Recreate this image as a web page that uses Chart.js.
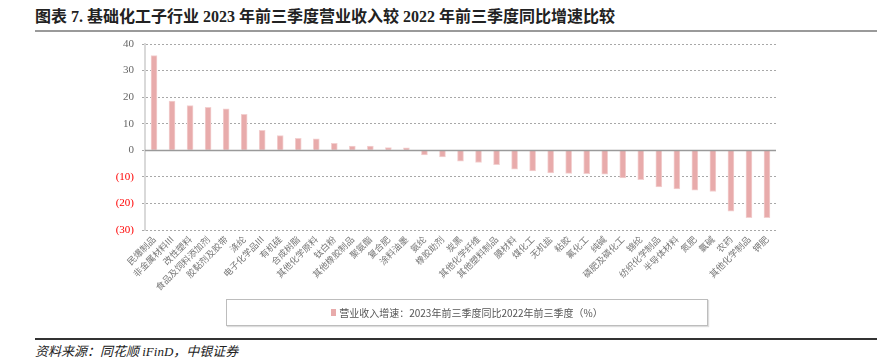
<!DOCTYPE html>
<html>
<head>
<meta charset="utf-8">
<script src="https://cdn.jsdelivr.net/npm/chart.js@4/dist/chart.umd.min.js"></script>
<style>
  body { margin: 0; width: 877px; height: 359px; background: #fff; position: relative; overflow: hidden; }
  #title { position: absolute; left: 35px; top: 3px; font: bold 16px "Liberation Serif", "Noto Sans CJK SC", serif; color: #222; white-space: nowrap; }
  #topline { position: absolute; left: 35px; right: 0; top: 30px; height: 2px; background: #9a9a9a; }
  #myChart { position: absolute; left: 0; top: 0; }
  #legend { position: absolute; left: 226px; top: 299px; width: 480px; height: 25px; border: 1px solid #bdbdbd; box-shadow: 1px 1px 1px #ddd;
            font: 10px "Noto Sans CJK SC", serif; color: #555; display: flex; align-items: center; justify-content: center; }
  #legend i { display: inline-block; width: 5px; height: 7px; margin-right: 3px; }
  #botline { position: absolute; left: 35px; right: 0; top: 338px; height: 2px; background: #333; }
  #source { position: absolute; left: 35px; top: 341px; font: italic 13px "Liberation Serif", "Noto Sans CJK SC", serif; color: #222; }
</style>
</head>
<body>
<div id="title">图表 7. 基础化工子行业 2023 年前三季度营业收入较 2022 年前三季度同比增速比较</div>
<div id="topline"></div>
<canvas id="myChart" width="877" height="300"></canvas>
<div id="legend"></div>
<div id="botline"></div>
<div id="source">资料来源：同花顺 iFinD，中银证券</div>
<script>
var categories = ['民爆制品', '非金属材料III', '改性塑料', '食品及饲料添加剂', '胶黏剂及胶带', '涤纶', '电子化学品III',
  '有机硅', '合成树脂', '其他化学原料', '钛白粉', '其他橡胶制品', '聚氨酯', '复合肥', '涂料油墨', '氨纶', '橡胶助剂',
  '炭黑', '其他化学纤维', '其他塑料制品', '膜材料', '煤化工', '无机盐', '粘胶', '氟化工', '纯碱', '磷肥及磷化工',
  '锦纶', '纺织化学制品', '半导体材料', '氮肥', '氯碱', '农药', '其他化学制品', '钾肥'];
var growth = [35.6, 18.5, 16.8, 16.2, 15.6, 13.5, 7.5, 5.5, 4.5, 4.3, 2.6, 1.6, 1.6, 1.0, 0.9, -1.7, -2.5,
  -4.1, -4.6, -5.4, -7.1, -7.8, -8.5, -8.7, -8.8, -9.0, -10.4, -11.1, -13.8, -14.5, -15.0, -15.5, -22.9, -25.4, -25.4];
var seriesName = '营业收入增速：2023年前三季度同比2022年前三季度（%）';
var yTicks = [-30, -20, -10, 0, 10, 20, 30, 40];

var barColor = '#e8abab';
document.getElementById('legend').innerHTML = '<i style="background:' + barColor + '"></i>' + seriesName;

// solid zero line on top of the dashed grid
var zeroLine = {
  id: 'zeroLine',
  afterDatasetsDraw: function (c) {
    var y = Math.round(c.scales.y.getPixelForValue(0)) + 0.5;
    var a = c.chartArea;
    c.ctx.save();
    c.ctx.strokeStyle = '#9a9a9a';
    c.ctx.lineWidth = 1.5;
    c.ctx.beginPath();
    c.ctx.moveTo(a.left, y);
    c.ctx.lineTo(a.right, y);
    c.ctx.stroke();
    c.ctx.restore();
  }
};

var ctx = document.getElementById('myChart').getContext('2d');
var chart = new Chart(ctx, {
  type: 'bar',
  data: {
    labels: categories,
    datasets: [{
      label: seriesName,
      data: growth,
      backgroundColor: barColor,
      borderColor: '#f3d0d0',
      borderWidth: 1,
      barThickness: 6
    }]
  },
  options: {
    responsive: false,
    animation: false,
    devicePixelRatio: 1,
    layout: { padding: { left: 0, right: 101, top: 44, bottom: 0 } },
    plugins: { legend: { display: false }, tooltip: { enabled: false } },
    scales: {
      x: {
        grid: { display: false, drawTicks: false },
        border: { display: false },
        ticks: {
          autoSkip: false, maxRotation: 45, minRotation: 45, padding: 4,
          color: '#777', font: { family: 'Noto Sans CJK SC', size: 9 }
        },
        afterFit: function (s) { s.height = 70; }
      },
      y: {
        min: -30, max: 40,
        afterBuildTicks: function (s) { s.ticks = yTicks.map(function (v) { return { value: v }; }); },
        border: { display: true, color: '#d9d9d9', width: 2, dash: [2, 2] },
        grid: {
          color: '#a8a8a8',
          lineWidth: 1,
          tickLength: 3
        },
        ticks: {
          padding: 8,
          color: function (c) { return c.tick.value < 0 ? '#ff0000' : '#666'; },
          font: { family: 'Liberation Serif', size: 11 },
          callback: function (v) { return v < 0 ? '(' + (-v) + ')' : v; }
        },
        afterFit: function (s) { s.width = 145; }
      }
    }
  },
  plugins: [zeroLine]
});
</script>
</body>
</html>
